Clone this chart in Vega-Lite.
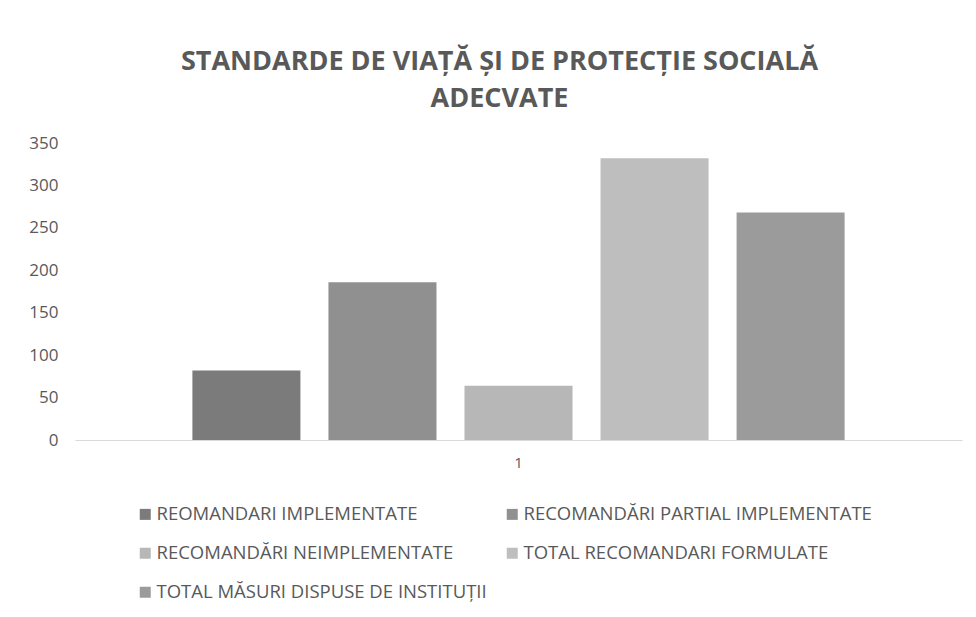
{
  "$schema": "https://vega.github.io/schema/vega-lite/v6.json",
  "autosize": {"type": "none"},
  "width": 887,
  "height": 297,
  "padding": {"left": 75, "top": 143, "right": 14, "bottom": 177},
  "background": "white",
  "title": {
    "text": ["STANDARDE DE VIAȚĂ ȘI DE PROTECȚIE SOCIALĂ", "ADECVATE"],
    "font": "Open Sans",
    "fontSize": 27,
    "fontWeight": "bold",
    "color": "#595959",
    "lineHeight": 37,
    "offset": 21,
    "dx": -19,
    "anchor": "middle"
  },
  "data": {
    "values": [
      {"cat": "1", "serie": "REOMANDARI IMPLEMENTATE", "val": 82},
      {"cat": "1", "serie": "RECOMANDĂRI PARTIAL IMPLEMENTATE", "val": 186},
      {"cat": "1", "serie": "RECOMANDĂRI NEIMPLEMENTATE", "val": 64},
      {"cat": "1", "serie": "TOTAL RECOMANDARI FORMULATE", "val": 332},
      {"cat": "1", "serie": "TOTAL MĂSURI DISPUSE DE INSTITUȚII", "val": 268}
    ]
  },
  "mark": {"type": "bar"},
  "encoding": {
    "x": {
      "field": "cat",
      "type": "nominal",
      "scale": {"paddingInner": 0, "paddingOuter": 0.18},
      "axis": {
        "title": null,
        "labelAngle": 0,
        "labelFont": "Open Sans",
        "labelFontSize": 15,
        "labelColor": "#595959",
        "labelPadding": 15,
        "ticks": false,
        "domainColor": "#d9d9d9",
        "domainWidth": 1
      }
    },
    "xOffset": {
      "field": "serie",
      "type": "nominal",
      "sort": null,
      "scale": {"paddingInner": 0.206, "paddingOuter": 0}
    },
    "y": {
      "field": "val",
      "type": "quantitative",
      "scale": {"domain": [0, 350], "nice": false},
      "axis": {
        "title": null,
        "values": [0, 50, 100, 150, 200, 250, 300, 350],
        "grid": false,
        "domain": false,
        "ticks": false,
        "labelFont": "Open Sans",
        "labelFontSize": 17,
        "labelColor": "#595959",
        "labelPadding": 17
      }
    },
    "color": {
      "field": "serie",
      "type": "nominal",
      "sort": null,
      "scale": {
        "domain": [
          "REOMANDARI IMPLEMENTATE",
          "RECOMANDĂRI PARTIAL IMPLEMENTATE",
          "RECOMANDĂRI NEIMPLEMENTATE",
          "TOTAL RECOMANDARI FORMULATE",
          "TOTAL MĂSURI DISPUSE DE INSTITUȚII"
        ],
        "range": ["#7b7b7b", "#909090", "#b7b7b7", "#bebebe", "#9b9b9b"]
      },
      "legend": {
        "title": null,
        "orient": "none",
        "legendX": 61,
        "legendY": 362,
        "columns": 2,
        "direction": "horizontal",
        "columnPadding": 16,
        "rowPadding": 20,
        "padding": 0,
        "symbolType": "square",
        "symbolSize": 121,
        "symbolStrokeWidth": 0,
        "labelFont": "Open Sans",
        "labelFontSize": 18.5,
        "labelColor": "#595959",
        "labelOffset": 2,
        "labelLimit": 600
      }
    }
  },
  "config": {"view": {"stroke": null}}
}
